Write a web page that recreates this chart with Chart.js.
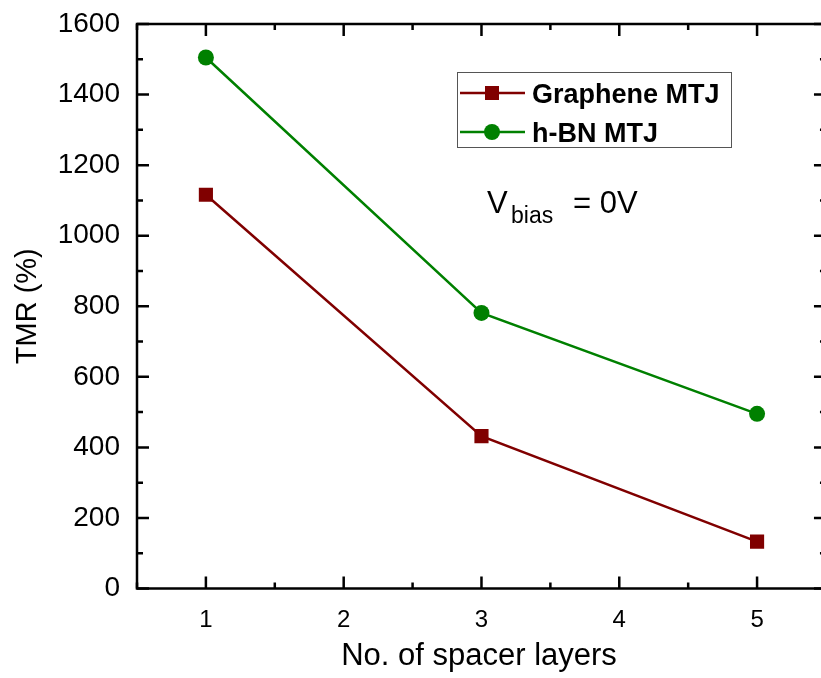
<!DOCTYPE html>
<html>
<head>
<meta charset="utf-8">
<script src="https://cdn.jsdelivr.net/npm/chart.js@4.4.1/dist/chart.umd.min.js"></script>
<style>
  html, body { margin: 0; padding: 0; background: #fff; overflow: hidden; }
  #wrap { width: 821px; height: 678px; }
</style>
</head>
<body>
<div id="wrap"><canvas id="chart" width="821" height="678"></canvas></div>
<script>
// --- Data ---
const layers = [1, 3, 5];
const grapheneTMR = [1116, 432, 133];
const hbnTMR = [1505, 781, 495];
const xTicks = [1, 2, 3, 4, 5];
const yTicks = [0, 200, 400, 600, 800, 1000, 1200, 1400, 1600];

// the original figure is cropped just before its right axis (x = 5.5)
const X_MIN = 0.5, X_AXIS_END = 5.5, X_VISIBLE_MAX = 5.464;

const FONT = "'Liberation Sans', Arial, Helvetica, sans-serif";
const RED = '#800000';
const GREEN = '#008000';

// frame + inward ticks on all four sides (drawn from the scales)
const framePlugin = {
  id: 'frame',
  afterDraw(chart) {
    const { ctx, chartArea: a, scales } = chart;
    const xs = scales.x, ys = scales.y;
    const xr = xs.getPixelForValue(X_AXIS_END);
    ctx.save();
    ctx.strokeStyle = '#000';
    ctx.lineWidth = 2.5;
    ctx.lineCap = 'butt';
    ctx.strokeRect(a.left, a.top, xr - a.left, a.bottom - a.top);

    ctx.beginPath();
    for (let v = X_MIN; v <= X_AXIS_END; v += 0.5) {
      const px = xs.getPixelForValue(v);
      const len = Number.isInteger(v) ? 12 : 6;
      ctx.moveTo(px, a.bottom); ctx.lineTo(px, a.bottom - len);
      ctx.moveTo(px, a.top); ctx.lineTo(px, a.top + len);
    }
    for (let v = 0; v <= 1600; v += 100) {
      const py = ys.getPixelForValue(v);
      const len = v % 200 === 0 ? 12 : 6;
      ctx.moveTo(a.left, py); ctx.lineTo(a.left + len, py);
      ctx.moveTo(xr, py); ctx.lineTo(xr - len, py);
    }
    ctx.stroke();
    ctx.restore();
  }
};

// in-plot legend box and the V_bias note
const notePlugin = {
  id: 'note',
  afterDatasetsDraw(chart) {
    const ctx = chart.ctx;
    ctx.save();
    ctx.fillStyle = '#fff';
    ctx.fillRect(457, 72, 274, 75);
    ctx.strokeStyle = '#555';
    ctx.lineWidth = 1;
    ctx.strokeRect(457.5, 72.5, 274, 75);

    const rows = [
      { y: 93, color: RED, label: 'Graphene MTJ', square: true },
      { y: 132, color: GREEN, label: 'h-BN MTJ', square: false }
    ];
    rows.forEach(r => {
      ctx.strokeStyle = r.color;
      ctx.fillStyle = r.color;
      ctx.lineWidth = 2.5;
      ctx.beginPath();
      ctx.moveTo(460, r.y); ctx.lineTo(525, r.y);
      ctx.stroke();
      if (r.square) {
        ctx.fillRect(485, r.y - 7, 14, 14);
      } else {
        ctx.beginPath();
        ctx.arc(492, r.y, 8, 0, Math.PI * 2);
        ctx.fill();
      }
      ctx.fillStyle = '#000';
      ctx.font = `bold 27px ${FONT}`;
      ctx.textBaseline = 'alphabetic';
      ctx.textAlign = 'left';
      ctx.fillText(r.label, 532, r.y + 10);
    });

    ctx.fillStyle = '#000';
    ctx.font = `31px ${FONT}`;
    ctx.fillText('V', 487, 213);
    ctx.font = `23px ${FONT}`;
    ctx.fillText('bias', 511, 223);
    ctx.font = `31px ${FONT}`;
    ctx.fillText('= 0V', 573, 213);
    ctx.restore();
  }
};

new Chart(document.getElementById('chart'), {
  type: 'line',
  data: {
    datasets: [
      {
        label: 'Graphene MTJ',
        data: layers.map((x, i) => ({ x, y: grapheneTMR[i] })),
        borderColor: RED,
        backgroundColor: RED,
        borderWidth: 2.5,
        pointStyle: 'rect',
        pointRadius: 10,
        pointBorderWidth: 0,
        tension: 0
      },
      {
        label: 'h-BN MTJ',
        data: layers.map((x, i) => ({ x, y: hbnTMR[i] })),
        borderColor: GREEN,
        backgroundColor: GREEN,
        borderWidth: 2.5,
        pointStyle: 'circle',
        pointRadius: 8,
        pointBorderWidth: 0,
        tension: 0
      }
    ]
  },
  options: {
    responsive: false,
    animation: false,
    devicePixelRatio: 1,
    layout: { autoPadding: false, padding: { top: 24, right: 0, left: 0, bottom: 0 } },
    plugins: { legend: { display: false }, tooltip: { enabled: false } },
    scales: {
      x: {
        type: 'linear',
        min: X_MIN,
        max: X_VISIBLE_MAX,
        afterBuildTicks: s => { s.ticks = xTicks.map(v => ({ value: v })); },
        afterFit: s => { s.height = 89.5; s.paddingLeft = 0; s.paddingRight = 0; },
        grid: { display: false, drawTicks: false },
        border: { display: false },
        ticks: {
          color: '#000', font: { family: FONT, size: 24 }, padding: 17, maxRotation: 0,
          callback: v => String(v)
        },
        title: {
          display: true,
          text: 'No. of spacer layers',
          color: '#000',
          font: { family: FONT, size: 31 },
          padding: { top: 0, bottom: 3 }
        }
      },
      y: {
        min: 0,
        max: 1600,
        afterBuildTicks: s => { s.ticks = yTicks.map(v => ({ value: v })); },
        afterFit: s => { s.width = 137; s.paddingTop = 0; s.paddingBottom = 0; },
        grid: { display: false, drawTicks: false },
        border: { display: false },
        ticks: {
          color: '#000', font: { family: FONT, size: 28 }, padding: 17,
          callback: v => String(v)
        },
        title: {
          display: true,
          text: 'TMR (%)',
          color: '#000',
          font: { family: FONT, size: 29 },
          padding: { top: 11, bottom: 0 }
        }
      }
    }
  },
  plugins: [framePlugin, notePlugin]
});
</script>
</body>
</html>
